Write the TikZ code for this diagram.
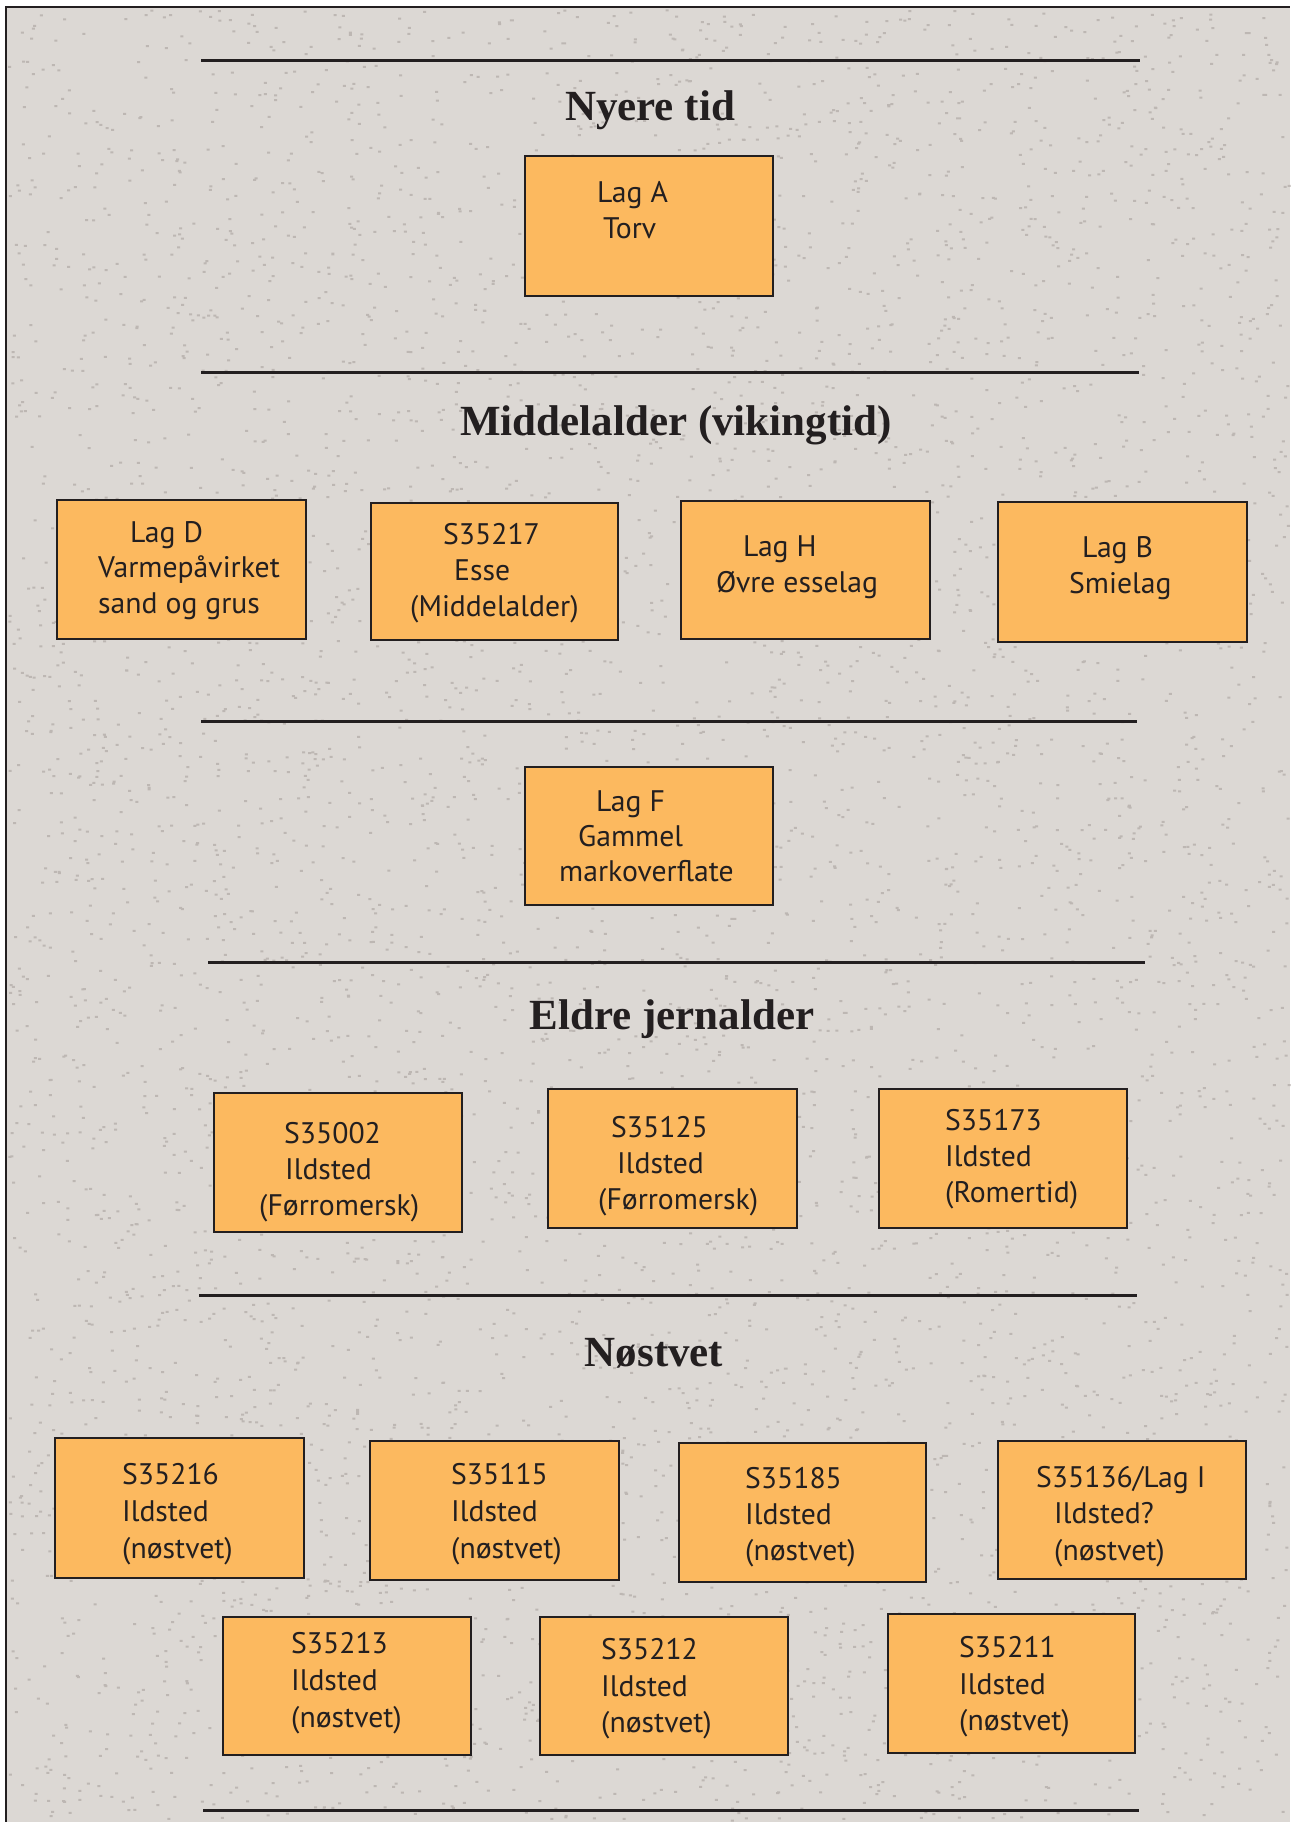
\documentclass[tikz,border=0pt]{standalone}
\usepackage{fontspec}
\setmainfont{Liberation Serif}
\newfontfamily\boxfont{PT Sans}
\usetikzlibrary{fit}
\definecolor{bgcol}{HTML}{DCD8D4}
\definecolor{speck}{HTML}{BDB7B3}
\definecolor{ink}{HTML}{231F20}
\definecolor{boxfill}{HTML}{FCB95F}
\tikzset{
  sepline/.style={draw=ink, line width=3pt},
  heading/.style={text=ink, font=\fontsize{43}{50}\selectfont\bfseries, anchor=base, inner sep=0pt},
  boxst/.style={draw=ink, fill=boxfill, line width=2pt, inner sep=0pt},
  txt/.style={text=ink, font=\boxfont\fontsize{29.7}{34}\selectfont, anchor=base west, inner sep=0pt}
}
\newcommand\mkbox[5]{\node[boxst, fit={(#2,#3) (#4,#5)}] (#1) {};}
\newcommand\bline[4]{\node[txt] (#1) at (#2,#3) {#4};}
\begin{document}
\begin{tikzpicture}[x=1pt, y=-1pt]
\useasboundingbox (0,0) rectangle (1290,1822);
\fill[white] (0,0) rectangle (1290,1822);
\fill[bgcol] (6,7) rectangle (1290,1822);
\pgfmathsetseed{4242}
\fill[speck] \foreach \i in {1,...,6000}{ ({8+rnd*1280},{9+rnd*1811}) rectangle ++(3,2) };
\draw[ink, line width=2pt] (6,1822) -- (6,7) -- (1290,7);

% separator lines
\coordinate (l1a) at (201,61);  \coordinate (l1b) at (1140,61);
\coordinate (l2a) at (201,372); \coordinate (l2b) at (1139,372);
\coordinate (l3a) at (201,721); \coordinate (l3b) at (1137,721);
\coordinate (l4a) at (208,962); \coordinate (l4b) at (1145,962);
\coordinate (l5a) at (199,1295);\coordinate (l5b) at (1137,1295);
\coordinate (l6a) at (203,1810);\coordinate (l6b) at (1139,1810);
\draw[sepline] (l1a) -- (l1b);
\draw[sepline] (l2a) -- (l2b);
\draw[sepline] (l3a) -- (l3b);
\draw[sepline] (l4a) -- (l4b);
\draw[sepline] (l5a) -- (l5b);
\draw[sepline] (l6a) -- (l6b);

% headings
\node[heading] (h1) at (650,121) {Nyere tid};
\node[heading] (h2) at (676,435) {Middelalder (vikingtid)};
\node[heading] (h3) at (672,1029) {Eldre jernalder};
\node[heading] (h4) at (654,1366) {Nøstvet};

% boxes
\mkbox{bA}{525}{156}{773}{296}
\mkbox{bD}{57}{500}{306}{639}
\mkbox{bS217}{371}{503}{618}{640}
\mkbox{bH}{681}{501}{930}{639}
\mkbox{bB}{998}{502}{1247}{642}
\mkbox{bF}{525}{767}{773}{905}
\mkbox{bS002}{214}{1093}{462}{1232}
\mkbox{bS125}{548}{1089}{797}{1228}
\mkbox{bS173}{879}{1089}{1127}{1228}
\mkbox{bS216}{55}{1438}{304}{1578}
\mkbox{bS115}{370}{1441}{619}{1580}
\mkbox{bS185}{679}{1443}{926}{1582}
\mkbox{bS136}{998}{1441}{1246}{1579}
\mkbox{bS213}{223}{1617}{471}{1755}
\mkbox{bS212}{540}{1617}{788}{1755}
\mkbox{bS211}{888}{1614}{1135}{1753}

% box texts
\bline{tA1}{597}{203}{Lag A}
\bline{tA2}{603}{238}{Torv}

\bline{tD1}{130}{542}{Lag D}
\bline{tD2}{98}{577}{Varmepåvirket}
\bline{tD3}{98}{613}{sand og grus}

\bline{tS217a}{443}{544}{S35217}
\bline{tS217b}{454}{580}{Esse}
\bline{tS217c}{410}{616}{(Middelalder)}

\bline{tH1}{743}{556}{Lag H}
\bline{tH2}{716}{592}{Øvre esselag}

\bline{tB1}{1082}{557}{Lag B}
\bline{tB2}{1069}{593}{Smielag}

\bline{tF1}{596}{811}{Lag F}
\bline{tF2}{578}{846}{Gammel}
\bline{tF3}{559}{881}{markoverflate}

\bline{tS002a}{284}{1143}{S35002}
\bline{tS002b}{285}{1179}{Ildsted}
\bline{tS002c}{259}{1215}{(Førromersk)}

\bline{tS125a}{611}{1137}{S35125}
\bline{tS125b}{617}{1173}{Ildsted}
\bline{tS125c}{598}{1209}{(Førromersk)}

\bline{tS173a}{945}{1130}{S35173}
\bline{tS173b}{945}{1166}{Ildsted}
\bline{tS173c}{945}{1202}{(Romertid)}

\bline{tS216a}{122}{1484}{S35216}
\bline{tS216b}{122}{1521}{Ildsted}
\bline{tS216c}{122}{1558}{(nøstvet)}

\bline{tS115a}{451}{1484}{S35115}
\bline{tS115b}{451}{1521}{Ildsted}
\bline{tS115c}{451}{1558}{(nøstvet)}

\bline{tS185a}{745}{1488}{S35185}
\bline{tS185b}{745}{1524}{Ildsted}
\bline{tS185c}{745}{1560}{(nøstvet)}

\bline{tS136a}{1036}{1487}{S35136/Lag I}
\bline{tS136b}{1054}{1523}{Ildsted?}
\bline{tS136c}{1054}{1560}{(nøstvet)}

\bline{tS213a}{291}{1653}{S35213}
\bline{tS213b}{291}{1690}{Ildsted}
\bline{tS213c}{291}{1727}{(nøstvet)}

\bline{tS212a}{601}{1659}{S35212}
\bline{tS212b}{601}{1696}{Ildsted}
\bline{tS212c}{601}{1732}{(nøstvet)}

\bline{tS211a}{959}{1657}{S35211}
\bline{tS211b}{959}{1694}{Ildsted}
\bline{tS211c}{959}{1730}{(nøstvet)}
\end{tikzpicture}
\end{document}
